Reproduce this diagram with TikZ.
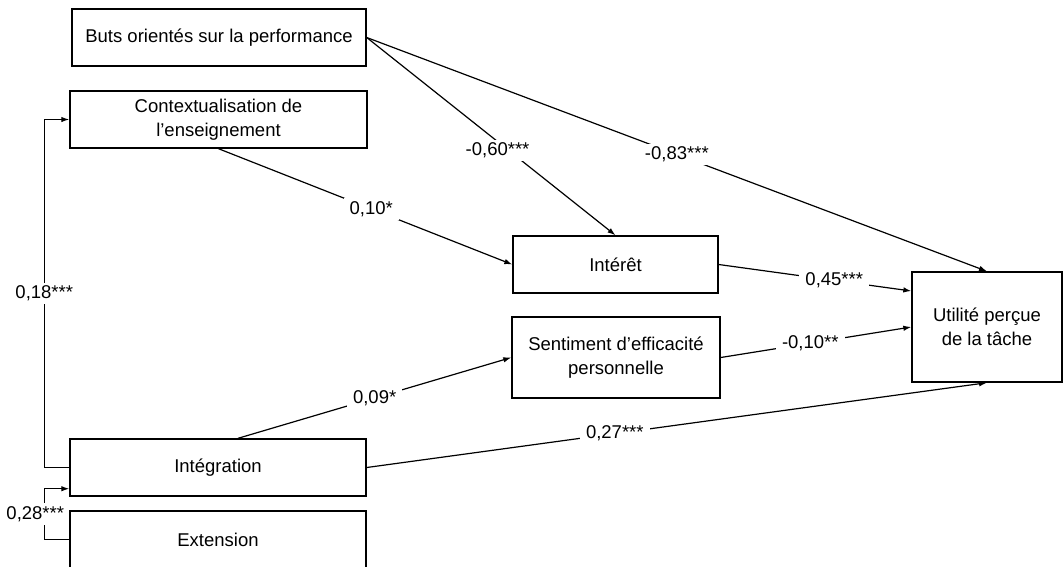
\documentclass[tikz,border=0pt]{standalone}
\usepackage{fontspec}
\setmainfont{Liberation Sans}
\usetikzlibrary{arrows.meta}
\tikzset{construct/.style={draw, line width=1.4pt, align=center, inner sep=0pt,
                           font=\fontsize{18.5}{24}\selectfont},
         path/.style={line width=1.2pt, -{Latex[length=8pt,width=5.5pt]}},
         coef/.style={fill=white, inner xsep=6pt, inner ysep=3pt,
                      font=\fontsize{18.5}{20}\selectfont}}

\begin{document}
\begin{tikzpicture}[x=1pt, y=-1pt]
  \clip (0,0) rectangle (1064,566);   % page = reference frame
  %
  % constructs (left column)
  \node[construct, minimum width=294pt, minimum height=57pt] (buts)  at (219,37.5)
       {Buts orientés sur la performance};
  \node[construct, minimum width=297pt, minimum height=57pt] (ctx)   at (218.5,119.5)
       {Contextualisation de\\l’enseignement};
  \node[construct, minimum width=296pt, minimum height=57pt] (integ) at (218,467.5)
       {Intégration};
  \node[construct, minimum width=296pt, minimum height=57pt] (ext)   at (218,539.5)
       {Extension};
  %
  % mediators and outcome
  \node[construct, minimum width=205pt, minimum height=57pt] (interet) at (615.5,264.5)
       {Intérêt};
  \node[construct, minimum width=208pt, minimum height=81pt] (sent)    at (616,357.5)
       {Sentiment d’efficacité\\personnelle};
  \node[construct, minimum width=150pt, minimum height=110pt] (util)   at (987,327)
       {Utilité perçue\\de la tâche};
  %
  % paths between constructs
  \draw[path] (buts.east) -- node[coef, pos=0.55, xshift=-6pt, yshift=-4pt] {-0,60***} (interet.north);
  \draw[path] (buts.east) -- node[coef, pos=0.5]  {-0,83***} (util.north);
  \draw[path] (ctx.south) -- node[coef, pos=0.52] {0,10*}    (interet.west);
  \draw[path] (interet.east) -- node[coef, pos=0.6] {0,45***} ([yshift=36pt]util.west);
  \draw[path] (sent.east) -- node[coef, pos=0.47] {-0,10**}  (util.west);
  \draw[path] ([xshift=20pt]integ.north) -- node[coef, pos=0.5] {0,09*} (sent.west);
  \draw[path] (integ.east) -- node[coef, pos=0.4] {0,27***}  (util.south);
  %
  % correlations on the left side
  \draw[path] (integ.west) -- ++(-25,0) |- node[coef, pos=0.25] {0,18***} (ctx.west);
  \draw[path] (ext.west) -- ++(-25,0)
        |- node[coef, pos=0.25, xshift=-9pt, inner xsep=1pt] {0,28***}
        ([yshift=8pt]integ.south west);
\end{tikzpicture}
\end{document}
